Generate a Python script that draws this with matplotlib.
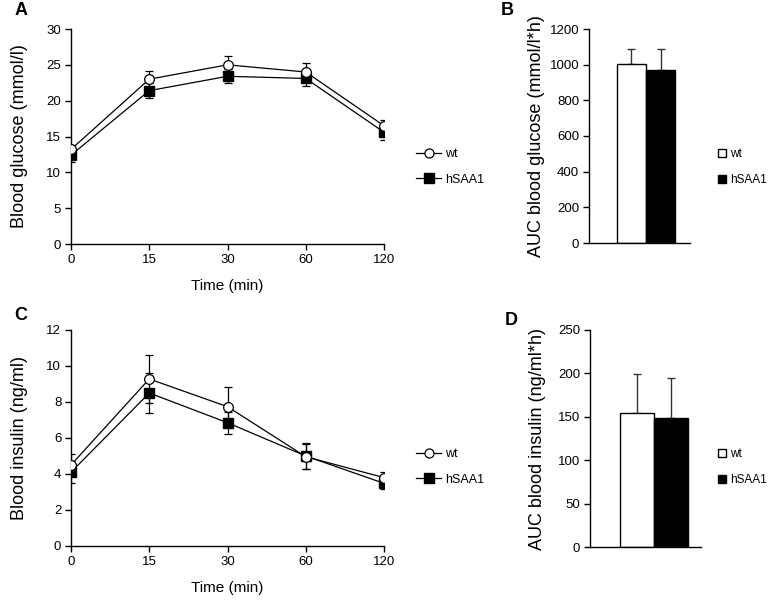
import matplotlib
matplotlib.use('Agg')
import matplotlib.pyplot as plt
from matplotlib.lines import Line2D
import numpy as np

plt.rcParams['font.family'] = ['Liberation Sans', 'DejaVu Sans']

# Data
time_labels = ['0', '15', '30', '60', '120']
groups = ['wt', 'hSAA1']

glucose_wt = [13.2, 23.0, 25.0, 24.0, 16.5]
glucose_wt_err = [0.6, 1.1, 1.3, 1.3, 0.8]
glucose_hsaa1 = [12.4, 21.4, 23.4, 23.1, 15.6]
glucose_hsaa1_err = [0.9, 1.0, 1.0, 1.0, 1.1]

insulin_wt = [4.5, 9.28, 7.74, 4.96, 3.8]
insulin_wt_err = [0.6, 1.35, 1.1, 0.7, 0.3]
insulin_hsaa1 = [4.1, 8.5, 6.85, 5.0, 3.48]
insulin_hsaa1_err = [0.6, 1.1, 0.6, 0.7, 0.3]

auc_glucose = [1002, 972]
auc_glucose_err = [84, 114]
auc_insulin = [154.6, 148.5]
auc_insulin_err = [45, 46]

W, H = 775, 600
fig = plt.figure(figsize=(W / 100, H / 100), dpi=100)


def px_axes(left, top, right, bottom):
    return fig.add_axes([left / W, 1 - bottom / H, (right - left) / W, (bottom - top) / H])


def style(ax):
    for s in ['top', 'right']:
        ax.spines[s].set_visible(False)
    for s in ['left', 'bottom']:
        ax.spines[s].set_linewidth(1.0)
    ax.tick_params(axis='both', labelsize=9.5, length=4, width=1.0, direction='out', pad=3)


def line_panel(ax, wt, wt_err, hs, hs_err, ymax, ystep, ylabel, leg_y):
    x = np.arange(len(time_labels))
    ax.errorbar(x, hs, yerr=hs_err, color='black', lw=0.9, marker='s', ms=7,
                mfc='black', mec='black', capsize=2.8, elinewidth=0.9, capthick=0.9,
                zorder=3)
    ax.errorbar(x, wt, yerr=wt_err, color='black', lw=0.9, marker='o', ms=7,
                mfc='white', mec='black', mew=0.9, capsize=2.8, elinewidth=0.9,
                capthick=0.9, zorder=4)
    ax.set_xlim(0, len(time_labels) - 1)
    ax.set_ylim(0, ymax)
    ax.set_xticks(x)
    ax.set_xticklabels(time_labels)
    ax.set_yticks(np.arange(0, ymax + ystep / 2, ystep))
    style(ax)
    ax.set_ylabel(ylabel, fontsize=13)
    ax.yaxis.set_label_coords(-0.137, 0.5)
    ax.set_xlabel('Time (min)', fontsize=11, va='top')
    ax.xaxis.set_label_coords(0.5, -0.162)
    handles = [
        Line2D([], [], color='black', lw=0.9, marker='o', ms=6.5, mfc='white', mec='black', mew=0.9),
        Line2D([], [], color='black', lw=0.9, marker='s', ms=6.5, mfc='black', mec='black'),
    ]
    ax.legend(handles, groups, frameon=False, fontsize=9, loc='center left',
              bbox_to_anchor=(410 / W, 1 - leg_y / H), bbox_transform=fig.transFigure,
              handlelength=2.0, labelspacing=1.05, handletextpad=0.3, borderpad=0)


def bar_panel(ax, vals, errs, ymax, ystep, ylabel, xlim, lab_x, leg_y):
    x = np.arange(len(groups))
    ax.bar(x, vals, width=1.0, color=['white', 'black'], edgecolor='black', lw=1.0,
           label=groups, zorder=2)
    ax.errorbar(x, vals, yerr=[[0] * len(errs), errs], fmt='none', ecolor='#333333',
                elinewidth=1.0, capsize=3, capthick=1.0, zorder=1)
    ax.set_xlim(*xlim)
    ax.set_ylim(0, ymax)
    ax.set_yticks(np.arange(0, ymax + ystep / 2, ystep))
    ax.set_xticks([])
    style(ax)
    ax.set_ylabel(ylabel, fontsize=13)
    ax.yaxis.set_label_coords(lab_x, 0.5)
    ax.legend(frameon=False, fontsize=8.5, loc='center left',
              bbox_to_anchor=(718 / W, 1 - leg_y / H), bbox_transform=fig.transFigure,
              handlelength=0.7, handleheight=0.7, labelspacing=1.15,
              handletextpad=0.35, borderpad=0, borderaxespad=0)


axA = px_axes(71, 29, 384, 244)
line_panel(axA, glucose_wt, glucose_wt_err, glucose_hsaa1, glucose_hsaa1_err,
           30, 5, 'Blood glucose (mmol/l)', 167)

axB = px_axes(589, 29, 690, 243)
bar_panel(axB, auc_glucose, auc_glucose_err, 1200, 200, 'AUC blood glucose (mmol/l*h)',
          (-1.44, 2.0), -0.436, 167)

axC = px_axes(71, 330, 384, 546)
line_panel(axC, insulin_wt, insulin_wt_err, insulin_hsaa1, insulin_hsaa1_err,
           12, 2, 'Blood insulin (ng/ml)', 467)

axD = px_axes(590, 330, 701, 547)
bar_panel(axD, auc_insulin, auc_insulin_err, 250, 50, 'AUC blood insulin (ng/ml*h)',
          (-1.4, 1.9), -0.40, 467)

for letter, xp, yp in [('A', 15, 2), ('B', 501, 2), ('C', 14, 307), ('D', 505, 312)]:
    fig.text(xp / W, 1 - yp / H, letter, fontsize=13, fontweight='bold', va='top', ha='left')

fig.savefig('out.png', dpi=100)
